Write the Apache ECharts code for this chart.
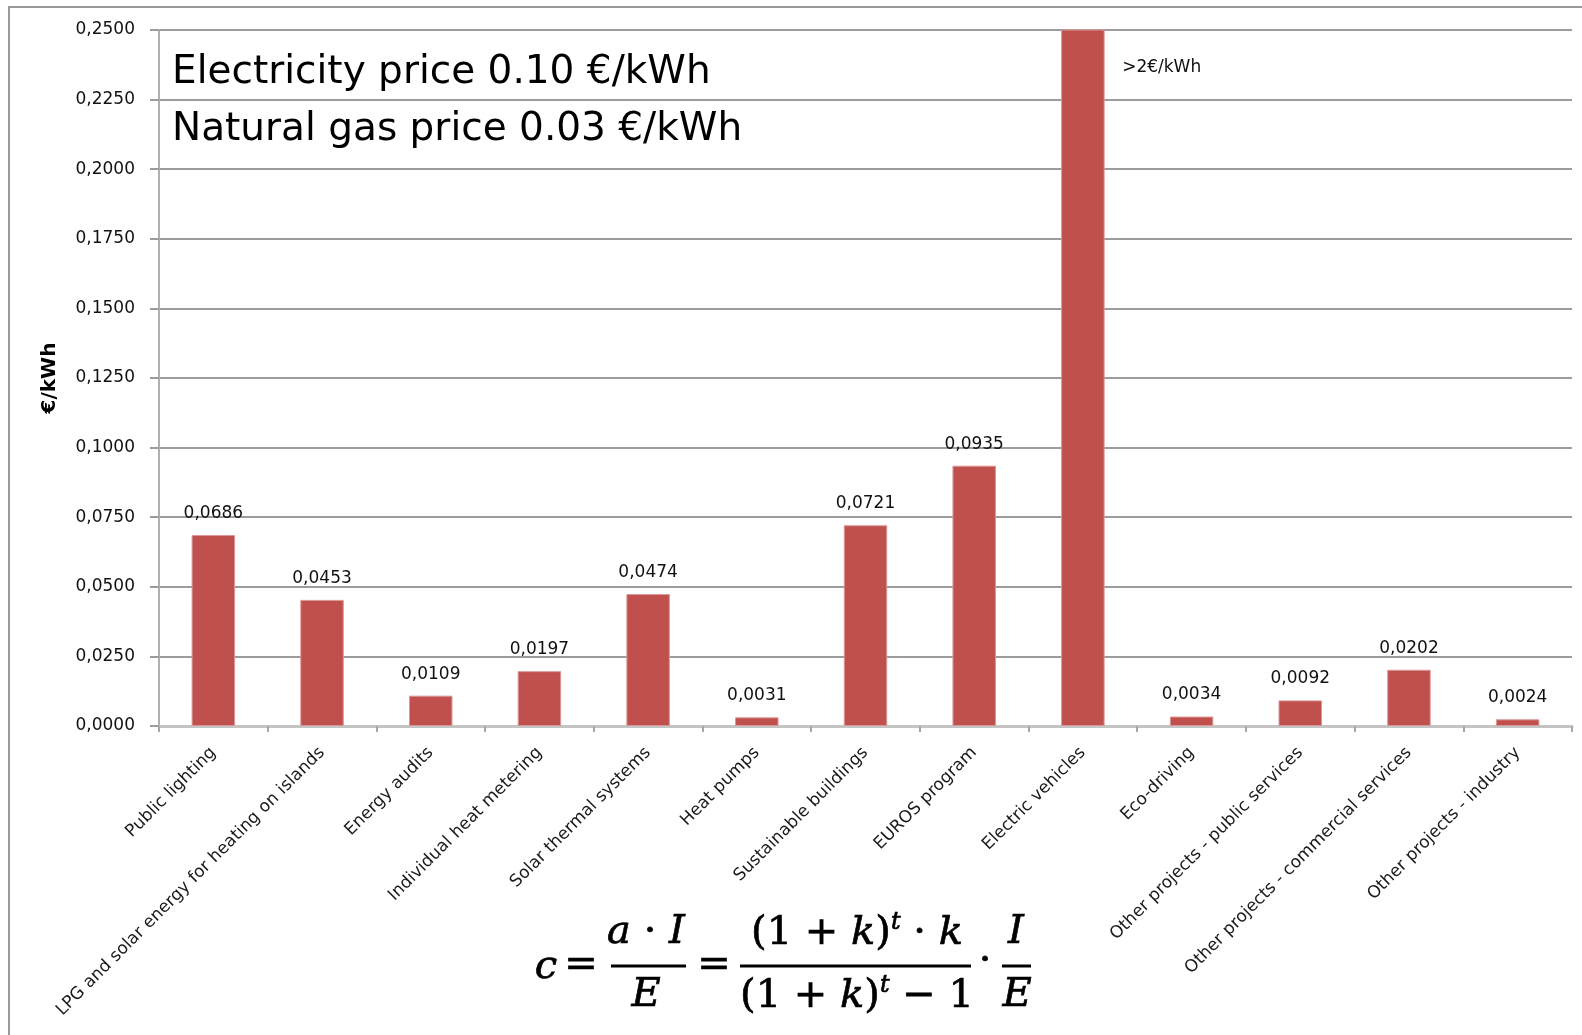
<!DOCTYPE html>
<html>
<head>
<meta charset="utf-8">
<title>Cost of saved energy by measure</title>
<script src="https://cdn.jsdelivr.net/npm/echarts@6/dist/echarts.min.js"></script>
<style>
  html, body { margin: 0; padding: 0; background: #ffffff; }
  #chart { width: 1582px; height: 1035px; }
</style>
</head>
<body>
<div id="chart"></div>
<script>
// Measures shown along the category axis
const categories = [
  'Public lighting',
  'LPG and solar energy for heating on islands',
  'Energy audits',
  'Individual heat metering',
  'Solar thermal systems',
  'Heat pumps',
  'Sustainable buildings',
  'EUROS program',
  'Electric vehicles',
  'Eco-driving',
  'Other projects - public services',
  'Other projects - commercial services',
  'Other projects - industry'
];

// Cost of saved energy, €/kWh (electric vehicles: above 2 €/kWh, off the scale)
const costValues = [0.0686, 0.0453, 0.0109, 0.0197, 0.0474, 0.0031, 0.0721, 0.0935, 2, 0.0034, 0.0092, 0.0202, 0.0024];
const offScaleLabel = '>2€/kWh';

// Value axis
const yMin = 0;
const yMax = 0.25;
const yStep = 0.025;

const priceNotes = ['Electricity price 0.10 €/kWh', 'Natural gas price 0.03 €/kWh'];

const fmt = v => v.toFixed(4).replace('.', ',');
const sansFont = 'DejaVu Sans';
const mathFont = 'DejaVu Serif';

const barData = costValues.map(v => {
  if (v > yMax) {
    return {
      value: v,
      label: {
        position: [61, 38],
        align: 'left',
        verticalAlign: 'middle',
        formatter: offScaleLabel
      }
    };
  }
  return v;
});

const chart = echarts.init(document.getElementById('chart'), null, { renderer: 'canvas' });

// Token styles for the formula (zrender text style names: fill / stroke / lineWidth)
const tokenBase = { fontFamily: mathFont, lineHeight: 46, fill: '#000', stroke: '#000', lineWidth: 0.7 };
const mathRich = {
  n: Object.assign({}, tokenBase, { fontSize: 40 }),
  v: Object.assign({}, tokenBase, { fontSize: 40, fontStyle: 'italic' }),
  s: Object.assign({}, tokenBase, { fontSize: 24, fontStyle: 'italic', verticalAlign: 'top' })
};

function mathText(str, x, y) {
  return {
    type: 'text',
    x: x, y: y,
    style: {
      text: str,
      rich: mathRich,
      font: '40px "' + mathFont + '"',
      align: 'center',
      verticalAlign: 'middle',
      fill: '#000'
    }
  };
}
function fracBar(x1, x2, y) {
  return {
    type: 'line',
    shape: { x1: x1, y1: y, x2: x2, y2: y },
    style: { stroke: '#000', lineWidth: 3 }
  };
}

const option = {
  backgroundColor: '#ffffff',
  animation: false,
  grid: { left: 159, right: 10, top: 30, bottom: 309 },
  xAxis: {
    type: 'category',
    data: categories,
    boundaryGap: true,
    axisLine: { show: true, lineStyle: { color: '#c4c4c4', width: 3 } },
    axisTick: { show: true, length: 6, lineStyle: { color: '#a8a8a8', width: 2 } },
    axisLabel: {
      interval: 0,
      rotate: 45,
      margin: 24,
      fontFamily: sansFont,
      fontSize: 17,
      color: '#1a1a1a'
    },
    splitLine: { show: false }
  },
  yAxis: {
    type: 'value',
    min: yMin,
    max: yMax,
    interval: yStep,
    name: '€/kWh',
    nameLocation: 'middle',
    nameGap: 99,
    nameTextStyle: { fontFamily: sansFont, fontSize: 20, fontWeight: 'bold', color: '#000' },
    axisLine: { show: true, lineStyle: { color: '#b0b0b0', width: 2 } },
    axisTick: { show: true, length: 9, lineStyle: { color: '#9c9c9c', width: 2 } },
    axisLabel: {
      formatter: fmt,
      margin: 24,
      fontFamily: sansFont,
      fontSize: 17,
      color: '#111'
    },
    splitLine: { show: true, lineStyle: { color: '#9c9c9c', width: 2 } }
  },
  series: [{
    type: 'bar',
    data: barData,
    barWidth: '40%',
    clip: true,
    itemStyle: { color: '#C0504D', borderColor: '#d99896', borderWidth: 1 },
    label: {
      show: true,
      position: 'top',
      distance: 13,
      fontFamily: sansFont,
      fontSize: 17,
      color: '#111',
      formatter: p => (p.value > yMax ? offScaleLabel : fmt(p.value))
    }
  }],
  graphic: [
    {
      type: 'rect',
      z: -10,
      shape: { x: 9, y: 7, width: 1700, height: 1200 },
      style: { fill: 'none', stroke: '#999999', lineWidth: 2 }
    },
    {
      type: 'text', x: 172, y: 73,
      style: { text: priceNotes[0], font: '39px "' + sansFont + '"', fill: '#000', verticalAlign: 'middle' }
    },
    {
      type: 'text', x: 172, y: 130,
      style: { text: priceNotes[1], font: '39px "' + sansFont + '"', fill: '#000', verticalAlign: 'middle' }
    },
    // Levelised cost formula
    mathText('{v|c}', 546, 968),
    mathText('{n|=}', 581, 966),
    fracBar(611, 686, 966),
    mathText('{v|a}{n| · }{v|I}', 646, 933),
    mathText('{v|E}', 646, 996),
    mathText('{n|=}', 714, 966),
    fracBar(740, 971, 966),
    mathText('{n|(1 + }{v|k}{n|)}{s|t}{n| · }{v|k}', 857, 934),
    mathText('{n|(1 + }{v|k}{n|)}{s|t}{n| − 1}', 857, 997),
    mathText('{n|·}', 985, 962),
    fracBar(1002, 1031, 966),
    mathText('{v|I}', 1016, 933),
    mathText('{v|E}', 1017, 996)
  ]
};

chart.setOption(option);
</script>
</body>
</html>
